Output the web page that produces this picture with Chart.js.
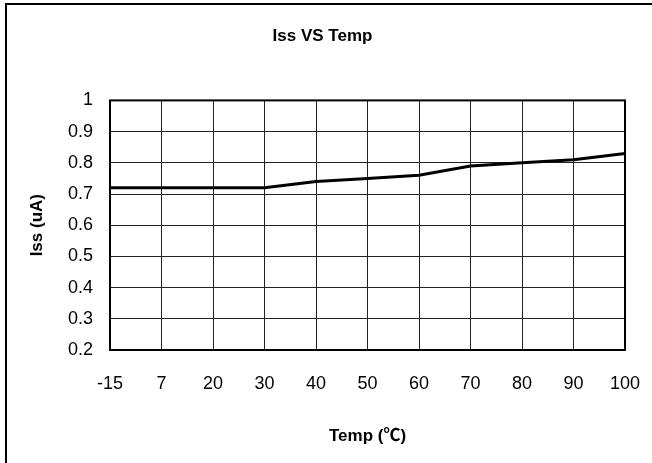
<!DOCTYPE html>
<html>
<head>
<meta charset="utf-8">
<script src="https://cdn.jsdelivr.net/npm/chart.js@4"></script>
<style>
  html, body { margin: 0; padding: 0; background: #fff; }
  #wrap { position: relative; width: 652px; height: 463px; overflow: hidden; }
  #frame { position: absolute; left: 5px; top: 3px; width: 900px; height: 900px; border: 2px solid #000; box-sizing: border-box; }
  canvas { position: absolute; left: 0; top: 0; }
</style>
</head>
<body>
<div id="wrap">
  <div id="frame"></div>
  <canvas id="issChart" width="652" height="463"></canvas>
</div>
<script>
const temps = ["-15", "7", "20", "30", "40", "50", "60", "70", "80", "90", "100"];
const issValues = [0.72, 0.72, 0.72, 0.72, 0.74, 0.75, 0.76, 0.79, 0.80, 0.81, 0.83];
const yTicks = [0.2, 0.3, 0.4, 0.5, 0.6, 0.7, 0.8, 0.9, 1];

const font = "'Liberation Sans', 'Noto Sans CJK SC', Arial, sans-serif";

// thick black frame around the plot area
const plotBorder = {
    id: "plotBorder",
    afterDraw(chart) {
        const { ctx, chartArea: a } = chart;
        ctx.save();
        ctx.strokeStyle = "#000";
        ctx.lineWidth = 2;
        ctx.strokeRect(a.left, a.top, a.right - a.left, a.bottom - a.top);
        ctx.restore();
    }
};

new Chart(document.getElementById("issChart").getContext("2d"), {
    type: "line",
    data: {
        labels: temps,
        datasets: [{
            label: "Iss",
            data: issValues,
            borderColor: "#000",
            borderWidth: 3,
            pointRadius: 0,
            fill: false,
            tension: 0
        }]
    },
    options: {
        responsive: false,
        animation: false,
        layout: { padding: { left: 20, right: 27, top: 20, bottom: 16 } },
        plugins: {
            legend: { display: false },
            tooltip: { enabled: false },
            title: {
                display: true,
                text: "Iss VS Temp",
                color: "#000",
                font: { family: font, size: 17, weight: "bold" },
                padding: { top: 6, bottom: 54 }
            }
        },
        scales: {
            x: {
                offset: false,
                afterFit(scale) { scale.paddingLeft = 0; scale.paddingRight = 0; },
                grid: { color: "#222", lineWidth: 1, drawTicks: false },
                border: { display: false },
                ticks: { color: "#000", font: { family: font, size: 18 }, padding: 23, maxRotation: 0, autoSkip: false },
                title: {
                    display: true,
                    text: "Temp (℃)",
                    color: "#000",
                    font: { family: font, size: 17, weight: "bold" },
                    padding: { top: 9, bottom: 0 }
                }
            },
            y: {
                min: 0.2,
                max: 1,
                afterBuildTicks(scale) { scale.ticks = yTicks.map(v => ({ value: v })); },
                afterFit(scale) { scale.width = 90; },
                grid: { color: "#222", lineWidth: 1, drawTicks: false },
                border: { display: false },
                ticks: {
                    color: "#000",
                    font: { family: font, size: 18 },
                    padding: 17,
                    callback: (v) => String(Math.round(v * 10) / 10)
                },
                title: {
                    display: true,
                    text: "Iss (uA)",
                    color: "#000",
                    font: { family: font, size: 17, weight: "bold" },
                    padding: { top: 7, bottom: 0 }
                }
            }
        }
    },
    plugins: [plotBorder]
});
</script>
</body>
</html>
